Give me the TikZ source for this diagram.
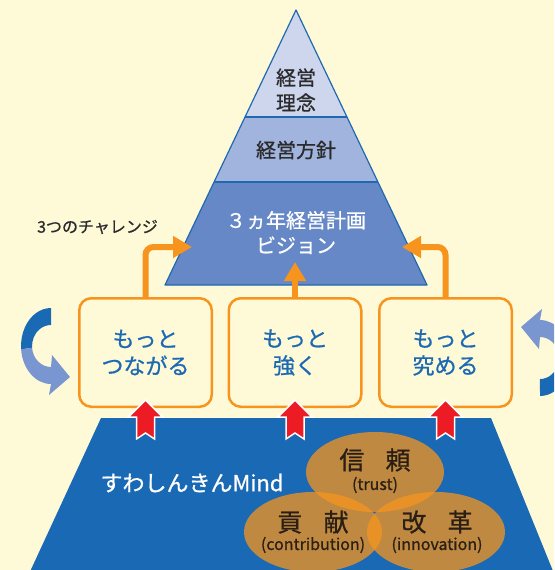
\documentclass[tikz,border=0pt]{standalone}
\usepackage{fontspec}
\setmainfont{Noto Sans CJK JP}[FakeBold=0.8]
\usetikzlibrary{arrows.meta,shapes.geometric}
\definecolor{bg}{HTML}{FEFAD8}
\definecolor{tri1}{HTML}{CED6EE}
\definecolor{tri2}{HTML}{A1B4DD}
\definecolor{tri3}{HTML}{6688C6}
\definecolor{triline}{HTML}{2068B0}
\definecolor{navy}{HTML}{1A69B4}
\definecolor{lightblue}{HTML}{7A96D0}
\definecolor{orng}{HTML}{F7941D}
\definecolor{redar}{HTML}{ED1C24}
\definecolor{txt}{HTML}{2B2B2B}
\definecolor{valtxt}{HTML}{2A1F14}
\definecolor{boxtxt}{HTML}{1D6AB4}
\tikzset{
  tritext/.style={text=txt, align=center, font=\fontsize{20}{25}\selectfont, inner sep=0pt},
  box/.style={draw=orng, line width=2.5pt, fill=bg, rounded corners=12pt,
    minimum width=132.5pt, minimum height=108.5pt, text=boxtxt, align=center,
    font=\fontsize{22}{27}\selectfont, inner sep=0pt},
  oarrow/.style={draw=orng, line width=6pt, rounded corners=8pt,
    -{Triangle[length=19pt,width=21pt]}},
  redarr/.style={fill=redar, draw=white, line width=1.5pt, line join=miter},
  valell/.style={ellipse, fill=orng, fill opacity=0.75, minimum width=138pt,
    minimum height=80pt, inner sep=0pt},
  valbig/.style={text=valtxt, font=\fontsize{25}{27}\selectfont, inner sep=0pt},
  valsmall/.style={text=valtxt, font=\fontsize{16}{18}\selectfont, inner sep=0pt},
}
\begin{document}
\begin{tikzpicture}[x=1pt,y=-1pt]
\useasboundingbox (0,0) rectangle (554,570);
\clip (0,0) rectangle (554,570);
\fill[bg] (0,0) rectangle (554,570);

% pyramid
\fill[tri1] (296,10) -- (347,117) -- (245,117) -- cycle;
\fill[tri2] (245,117) -- (347,117) -- (377.9,182) -- (214.1,182) -- cycle;
\fill[tri3] (214.1,182) -- (377.9,182) -- (427,285) -- (165,285) -- cycle;
\draw[triline, line width=1.2pt, line join=round] (296,10) -- (427,285) -- (165,285) -- cycle;
\draw[triline, line width=1.2pt] (245,117) -- (347,117) (214.1,182) -- (377.9,182);
\node[tritext] (rinen) at (296,90) {経営\\理念};
\node[tritext] (hoshin) at (296,150) {経営方針};
\node[tritext, text=white] (plan) at (296,232.5) {３ヵ年経営計画\\ビジョン};

\node[text=txt, font=\fontsize{16}{18}\selectfont, inner sep=0pt] (chal) at (97.5,227) {3つのチャレンジ};

% base trapezoid
\fill[navy] (101,418) -- (491,418) -- (555,576) -- (28,576) -- cycle;

% boxes
\node[box] (b1) at (145.5,352.5) {もっと\\つながる};
\node[box] (b2) at (295,352.5) {もっと\\強く};
\node[box] (b3) at (445.5,352.5) {もっと\\究める};

% orange arrows
\coordinate (L) at (192,247);
\coordinate (R) at (402,247);
\coordinate (M) at (295,262);
\draw[oarrow] (b1.north) |- (L);
\draw[oarrow] (b3.north) |- (R);
\draw[oarrow] (b2.north) -- (M);

% red arrows
\foreach \b in {b1,b2,b3} {
  \begin{scope}[shift={(\b.south)}]
    \draw[redarr] (0,-8) -- (17,9) -- (9,9) -- (9,31) -- (0,25) -- (-9,31) -- (-9,9) -- (-17,9) -- cycle;
  \end{scope}
}

% blue circular arrows
\fill[navy] (51,308) arc[start angle=90, end angle=185, x radius=30pt, y radius=38pt]
  -- (32.1,347.8) arc[start angle=185, end angle=90, x radius=19pt, y radius=21pt] -- cycle;
\fill[lightblue] (21.1,349.3) arc[start angle=185, end angle=270, x radius=30pt, y radius=38pt]
  -- (49,395) -- (70,377) -- (52,355) -- (51,367)
  arc[start angle=270, end angle=185, x radius=19pt, y radius=21pt] -- cycle;
\begin{scope}[rotate around={180:(295.5,352)}]
\fill[navy] (51,308) arc[start angle=90, end angle=185, x radius=30pt, y radius=38pt]
  -- (32.1,347.8) arc[start angle=185, end angle=90, x radius=19pt, y radius=21pt] -- cycle;
\fill[lightblue] (21.1,349.3) arc[start angle=185, end angle=270, x radius=30pt, y radius=38pt]
  -- (49,395) -- (70,377) -- (52,355) -- (51,367)
  arc[start angle=270, end angle=185, x radius=19pt, y radius=21pt] -- cycle;
\end{scope}

% Mind
\node[text=white, font=\fontsize{22}{24}\selectfont, inner sep=0pt] (mind) at (192,483) {すわしんきんMind};

% values
\node[valell] (v1) at (375,472) {};
\node[valell] (v2) at (313,532) {};
\node[valell] (v3) at (436,532) {};
\node[valbig] (v1a) at (375,460) {信\hspace{0.85em}頼};
\node[valsmall] (v1b) at (375,485) {(trust)};
\node[valbig] (v2a) at (313,522) {貢\hspace{0.85em}献};
\node[valsmall] (v2b) at (313,545) {(contribution)};
\node[valbig] (v3a) at (437,522) {改\hspace{0.85em}革};
\node[valsmall] (v3b) at (437,545) {(innovation)};
\end{tikzpicture}
\end{document}
